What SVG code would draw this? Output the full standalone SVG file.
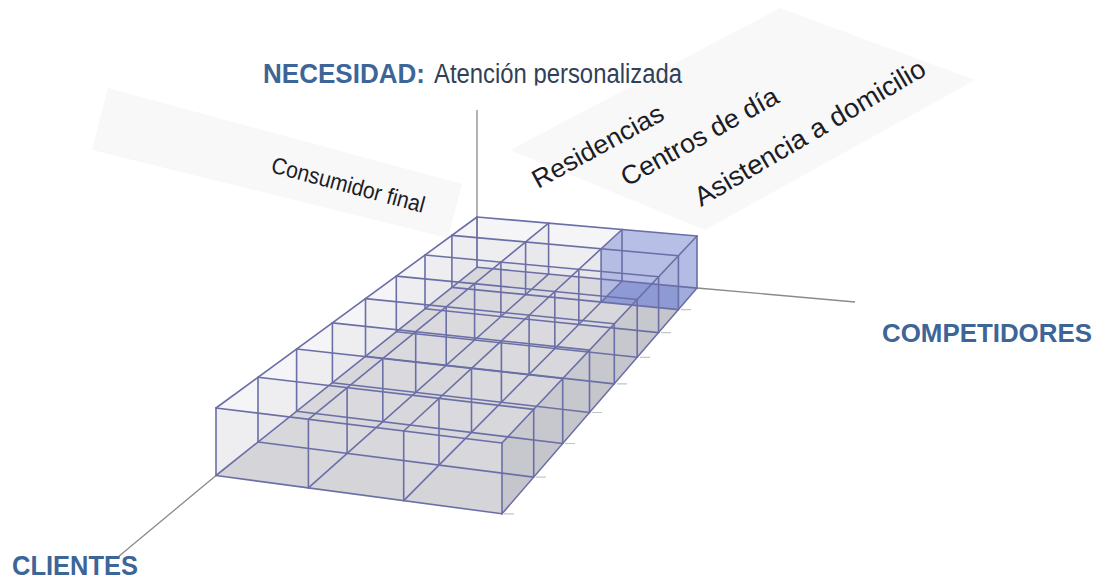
<svg xmlns="http://www.w3.org/2000/svg" width="1104" height="580" viewBox="0 0 1104 580">
  <defs>
    <style>
      .edge{stroke:#6b6fa6;stroke-width:1.6;fill:none;stroke-linecap:round}
      .panel{fill:#dedee6;fill-opacity:0.3;stroke:none}
      .axis{stroke:#8a8a8a;stroke-width:1.3;fill:none}
      .tick{stroke:#c4c4c8;stroke-width:1.2}
      .title{font-family:"Liberation Sans Narrow","Liberation Sans",Arial,sans-serif;font-weight:bold;fill:#3d6597}
      .sub{font-family:"Liberation Sans Narrow","Liberation Sans",Arial,sans-serif;fill:#2f4158}
      .lbl{font-family:"Liberation Sans",Arial,sans-serif;fill:#1c1c24}
      .band{fill:#f8f8f9}
    </style>
    <clipPath id="clipTop"><rect x="0" y="0" width="1104" height="85.5"/></clipPath>
  </defs>
  <rect width="1104" height="580" fill="#ffffff"/>

  <!-- faint background bands behind rotated labels -->
  <g id="bands">
    <polygon class="band" points="108,88 462,184 448,238 92,150"/>
    <polygon class="band" points="510,150 780,8 975,80 705,230"/>
  </g>

  <!-- connectors: axes -->
  <g id="connectors">
    <line class="axis" x1="477" y1="110" x2="477" y2="267"/>
    <line class="axis" x1="697" y1="288" x2="855" y2="302"/>
    <line class="axis" x1="216" y1="475.5" x2="118" y2="557"/>
  </g>

  <!-- grid cube -->
  <g id="cube">
    <polygon points="216,475.5 502,513.8 697,288.1 477,267.3" fill="#d0d0d5"/>
    <g id="walls">
      <polygon class="panel" points="216,408 502,443 502,513.8 216,475.5"/>
      <polygon class="panel" points="258,377.3 533.7,409.4 533.7,477.1 258,442"/>
      <polygon class="panel" points="296.6,349 562.7,378.5 562.7,443.5 296.6,411.2"/>
      <polygon class="panel" points="332.4,322.9 589.5,350.1 589.5,412.5 332.4,382.7"/>
      <polygon class="panel" points="365.5,298.6 614.3,323.8 614.3,383.9 365.5,356.3"/>
      <polygon class="panel" points="396.3,276.1 637.2,299.5 637.2,357.3 396.3,331.7"/>
      <polygon class="panel" points="425,255 658.6,276.8 658.6,332.6 425,308.8"/>
      <polygon class="panel" points="451.9,235.4 678.4,255.7 678.4,309.6 451.9,287.4"/>
      <polygon class="panel" points="477,217 697,236 697,288.1 477,267.3"/>
      <polygon class="panel" points="216,408 477,217 477,267.3 216,475.5"/>
      <polygon class="panel" points="308.4,419.3 548.6,223.2 548.6,274.1 308.4,487.9"/>
      <polygon class="panel" points="403.7,431 622,229.5 622,281 403.7,500.6"/>
      <polygon points="502,443 697,236 697,288.1 502,513.8" fill="#b9b9c0" fill-opacity="0.45"/>
    </g>

    <g id="blue-cell">
      <polygon points="601.1,248.8 622,229.5 697,236 697,288.1 678.4,309.6 601.1,302" fill="#a7b1e2" fill-opacity="0.8"/>
      <polygon points="601.1,302 678.4,309.6 697,288.1 622,281" fill="#8290d0" fill-opacity="0.75"/>
      <polygon points="678.4,255.7 697,236 697,288.1 678.4,309.6" fill="#b4bde8" fill-opacity="0.5"/>
    </g>

    <g id="edges" class="edge">
      <path d="M216,408L502,443 M258,377.3L533.7,409.4 M296.6,349L562.7,378.5 M332.4,322.9L589.5,350.1 M365.5,298.6L614.3,323.8 M396.3,276.1L637.2,299.5 M425,255L658.6,276.8 M451.9,235.4L678.4,255.7 M477,217L697,236"/>
      <path d="M216,408L477,217 M308.4,419.3L548.6,223.2 M403.7,431L622,229.5 M502,443L697,236"/>
      <path d="M216,475.5L502,513.8 M258,442L533.7,477.1 M296.6,411.2L562.7,443.5 M332.4,382.7L589.5,412.5 M365.5,356.3L614.3,383.9 M396.3,331.7L637.2,357.3 M425,308.8L658.6,332.6 M451.9,287.4L678.4,309.6 M477,267.3L697,288.1"/>
      <path d="M216,475.5L477,267.3 M308.4,487.9L548.6,274.1 M403.7,500.6L622,281 M502,513.8L697,288.1"/>
      <path d="M216,408V475.5 M258,377.3V442 M296.6,349V411.2 M332.4,322.9V382.7 M365.5,298.6V356.3 M396.3,276.1V331.7 M425,255V308.8 M451.9,235.4V287.4 M477,217V267.3"/>
      <path d="M308.4,419.3V487.9 M347.1,387.7V453.4 M382.8,358.6V421.7 M415.7,331.7V392.4 M446.2,306.8V365.2 M474.6,283.7V340 M500.9,262.1V316.5 M525.6,242V294.6 M548.6,223.2V274.1"/>
      <path d="M403.7,431V500.6 M439,398.4V465.1 M471.5,368.4V432.4 M501.4,340.8V402.3 M529.1,315.2V374.4 M554.8,291.5V348.5 M578.8,269.4V324.5 M601.1,248.8V302 M622,229.5V281"/>
      <path d="M502,443V513.8 M533.7,409.4V477.1 M562.7,378.5V443.5 M589.5,350.1V412.5 M614.3,323.8V383.9 M637.2,299.5V357.3 M658.6,276.8V332.6 M678.4,255.7V309.6 M697,236V288.1"/>
    </g>

    <g id="ticks" class="tick">
      <path d="M504,513.8h10 M536,477.1h10 M565,443.5h10 M592,412.5h10 M617,383.9h10 M640,357.3h10 M661,332.6h10 M681,309.6h10"/>
    </g>
  </g>

  <g id="label-necesidad">
    <text class="title" x="263" y="83" font-size="28" textLength="162" lengthAdjust="spacingAndGlyphs">NECESIDAD:</text>
    <text class="sub" x="434" y="83" font-size="27" textLength="248" lengthAdjust="spacingAndGlyphs" clip-path="url(#clipTop)">Atención personalizada</text>
  </g>
  <g id="label-consumidor">
    <text class="lbl" x="270" y="172" font-size="23" textLength="158" lengthAdjust="spacingAndGlyphs" transform="rotate(15 270 172)">Consumidor final</text>
  </g>
  <g id="label-residencias">
    <text class="lbl" x="538" y="189" font-size="26" textLength="146" lengthAdjust="spacingAndGlyphs" transform="rotate(-28.7 538 189)">Residencias</text>
  </g>
  <g id="label-centros">
    <text class="lbl" x="627" y="187" font-size="26.5" textLength="176" lengthAdjust="spacingAndGlyphs" transform="rotate(-29 627 187)">Centros de día</text>
  </g>
  <g id="label-asistencia">
    <text class="lbl" x="701" y="207" font-size="27" textLength="263" lengthAdjust="spacingAndGlyphs" transform="rotate(-30.4 701 207)">Asistencia a domicilio</text>
  </g>
  <g id="label-competidores">
    <text class="title" x="882" y="342" font-size="26" textLength="210" lengthAdjust="spacingAndGlyphs">COMPETIDORES</text>
  </g>
  <g id="label-clientes">
    <text class="title" x="12" y="575" font-size="28" textLength="126" lengthAdjust="spacingAndGlyphs">CLIENTES</text>
  </g>
</svg>
